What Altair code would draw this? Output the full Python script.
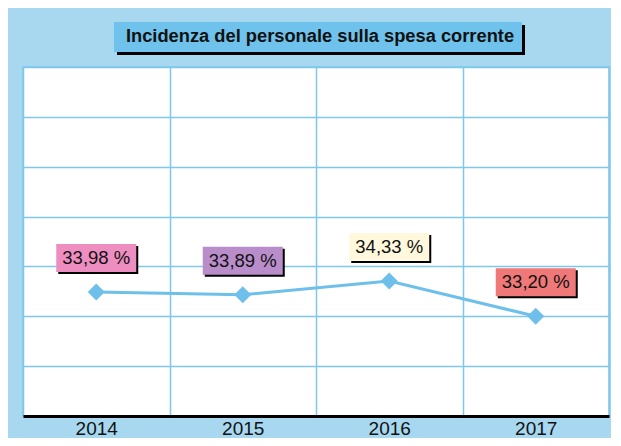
import altair as alt
import pandas as pd

title_text = "Incidenza del personale sulla spesa corrente"
years = ["2014", "2015", "2016", "2017"]
values = [33.98, 33.89, 34.33, 33.20]
labels = ["33,98 %", "33,89 %", "34,33 %", "33,20 %"]
box_colors = ["#EE8DC0", "#B98DCA", "#FFF8DC", "#EF7878"]
y_ticks = [30, 31.6, 33.2, 34.8, 36.4, 38, 39.6, 41.2]

df = pd.DataFrame({"year": years, "value": values, "label": labels, "color": box_colors})
tdf = pd.DataFrame({"t": [title_text]})

FONT = "Liberation Sans"
BG = "#A7D8F0"
GRID = "#7EC8EC"
LINE = "#6EC0EA"

xenc = alt.X(
    "year:O",
    bandPosition=0.5,
    scale=alt.Scale(type="band", paddingInner=0, paddingOuter=0),
    axis=alt.Axis(
        title=None, grid=True, tickBand="extent", ticks=False, labelAngle=0,
        domainColor="black", domainWidth=3, gridColor=GRID, gridWidth=1.5,
        labelFontSize=19, labelColor="#111", labelFont=FONT, labelPadding=3,
    ),
)
yenc = alt.Y(
    "value:Q",
    scale=alt.Scale(domain=[y_ticks[0], y_ticks[-1]], nice=False, zero=False),
    axis=alt.Axis(title=None, values=y_ticks, grid=True, gridColor=GRID, gridWidth=1.5,
                  labels=False, ticks=False, domain=False),
)

base = alt.Chart(df)
xc = alt.X("year:O", bandPosition=0.5)

line = base.mark_line(color=LINE, strokeWidth=3).encode(x=xenc, y=yenc)
pts = base.mark_point(shape="diamond", filled=True, size=290, color=LINE, opacity=1).encode(
    x=xc, y="value:Q")

box_path = "M-1,-0.35L1,-0.35L1,0.35L-1,0.35Z"
shadow = base.mark_point(shape=box_path, filled=True, size=6400, color="black", opacity=1,
                         xOffset=2, yOffset=-32).encode(x=xc, y="value:Q")
boxes = base.mark_point(shape=box_path, filled=True, size=6400, opacity=1, yOffset=-34).encode(
    x=xc, y="value:Q", color=alt.Color("color:N", scale=None))
texts = base.mark_text(font=FONT, fontSize=18.5, color="#111", yOffset=-34, baseline="middle").encode(
    x=xc, y="value:Q", text="label:N")

tchart = alt.Chart(tdf)
t_shadow = tchart.mark_rect(color="black").encode(
    x=alt.value(94), x2=alt.value(502), y=alt.value(-42), y2=alt.value(-12))
t_box = tchart.mark_rect(color="#6EC2EC").encode(
    x=alt.value(91), x2=alt.value(499), y=alt.value(-45), y2=alt.value(-15))
t_text = tchart.mark_text(font=FONT, fontSize=18.3, fontWeight="bold", color="#111",
                          baseline="middle").encode(
    x=alt.value(297), y=alt.value(-30), text="t:N")

chart = alt.layer(line, pts, shadow, boxes, texts, t_shadow, t_box, t_text).properties(
    width=586, height=349,
    autosize=alt.AutoSizeParams(type="none"),
    padding={"left": 15, "top": 59, "right": 2, "bottom": 22},
).configure(background=BG).configure_view(fill="white", stroke=GRID, strokeWidth=1.5)

chart.save("out.html", embed_options={"renderer": "svg", "actions": False})
